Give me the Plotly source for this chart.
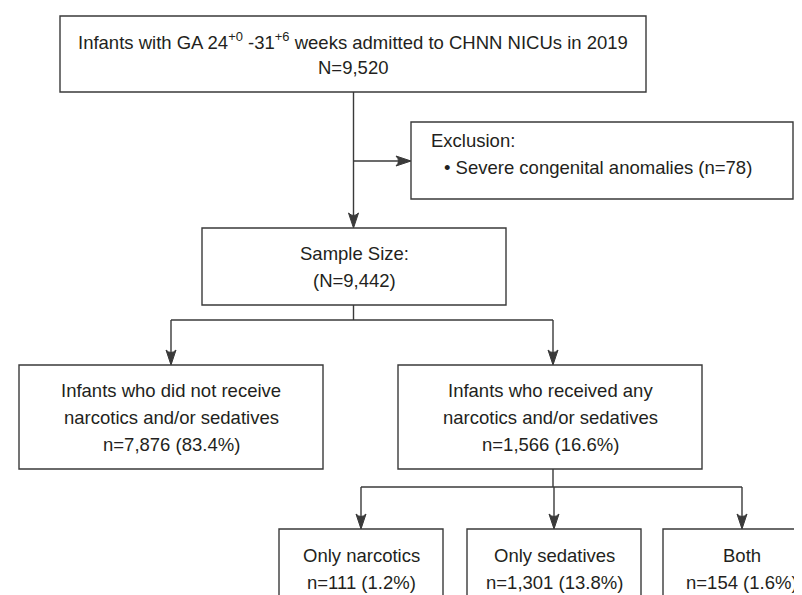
import plotly.graph_objects as go

# ---------------- data ----------------
admitted_total = 9520
excluded_anomalies = 78
sample_size = 9442
group_labels = [["Infants who did not receive", "narcotics and/or sedatives"],
                ["Infants who received any", "narcotics and/or sedatives"]]
group_counts = [7876, 1566]
group_pcts = [83.4, 16.6]
sub_labels = ["Only narcotics", "Only sedatives", "Both"]
sub_counts = [111, 1301, 154]
sub_pcts = [1.2, 13.8, 1.6]

# ---------------- layout geometry (pixels) ----------------
W, H = 802, 595
FONT = "Liberation Sans, Arial, Helvetica, sans-serif"
TXT = "#231f20"
LINE = "#3a3a3a"
FS = 18.5
LH = 27

top_box = (52, 638, 8, 84)
excl_box = (403, 785, 114, 191)
sample_box = (194, 498, 220, 297)
group_boxes = [(11, 315, 357, 461), (390, 694, 357, 461)]
sub_boxes = [(271, 435, 521, 640), (459, 633, 521, 640), (655, 813, 521, 640)]

shapes = []
annotations = []


def rect(b):
    shapes.append(dict(type="rect", xref="x", yref="y", x0=b[0], x1=b[1], y0=b[2], y1=b[3],
                       line=dict(color=LINE, width=1.4), fillcolor="rgba(0,0,0,0)"))


def seg(x0, y0, x1, y1):
    shapes.append(dict(type="line", xref="x", yref="y", x0=x0, y0=y0, x1=x1, y1=y1,
                       line=dict(color=LINE, width=1.4)))


def arrow_down(x, y):
    shapes.append(dict(type="path", xref="x", yref="y",
                       path=f"M {x},{y} L {x-5},{y-15} Q {x},{y-10} {x+5},{y-15} Z",
                       fillcolor=LINE, line=dict(color=LINE, width=1)))


def arrow_right(x, y):
    shapes.append(dict(type="path", xref="x", yref="y",
                       path=f"M {x},{y} L {x-15},{y-5} Q {x-10},{y} {x-15},{y+5} Z",
                       fillcolor=LINE, line=dict(color=LINE, width=1)))


def text(x, y, s, anchor="center"):
    annotations.append(dict(x=x, y=y, xref="x", yref="y", text=s, showarrow=False,
                            xanchor=anchor, yanchor="middle",
                            font=dict(family=FONT, size=FS, color=TXT)))


def lines_in(b, lines):
    cx = (b[0] + b[1]) / 2
    cy = (b[2] + b[3]) / 2
    n = len(lines)
    for i, s in enumerate(lines):
        text(cx, cy + (i - (n - 1) / 2) * LH, s)


# boxes
for b in [top_box, excl_box, sample_box] + group_boxes + sub_boxes:
    rect(b)

# top box text
lines_in(top_box, ["Infants with GA 24<sup>+0</sup> -31<sup>+6</sup> weeks admitted to CHNN NICUs in 2019",
                   f"N={admitted_total:,}"])

# exclusion text
text(421, 132, "Exclusion:", anchor="left")
text(434, 159, f"• Severe congenital anomalies (n={excluded_anomalies})", anchor="left")

# sample
lines_in((sample_box[0], sample_box[1], sample_box[2] + 1, sample_box[3]),
         ["Sample Size:", f"(N={sample_size:,})"])

# groups
for b, lab, c, p in zip(group_boxes, group_labels, group_counts, group_pcts):
    lines_in(b, lab + [f"n={c:,} ({p}%)"])

# sub groups
for b, lab, c, p in zip(sub_boxes, sub_labels, sub_counts, sub_pcts):
    cx = (b[0] + b[1]) / 2
    text(cx, 547, lab)
    text(cx, 574, f"n={c:,} ({p}%)")

# connectors
mx = 345.5
seg(mx, top_box[3], mx, sample_box[2] - 2)
arrow_down(mx, sample_box[2])
seg(mx, 153, excl_box[0] - 2, 153)
arrow_right(excl_box[0], 153)

seg(mx, sample_box[3], mx, 312)
gx = [163, 545]
seg(gx[0], 312, gx[1], 312)
for x in gx:
    seg(x, 312, x, 355)
    arrow_down(x, 357)

sx = [353, 546, 734]
seg(545, group_boxes[1][3], 545, 479)
seg(sx[0], 479, sx[2], 479)
for x in sx:
    seg(x, 479, x, 519)
    arrow_down(x, 521)

fig = go.Figure()
fig.update_layout(
    width=W, height=H,
    margin=dict(l=0, r=0, t=0, b=0),
    paper_bgcolor="white", plot_bgcolor="white",
    xaxis=dict(range=[0, W], visible=False, fixedrange=True),
    yaxis=dict(range=[H, 0], visible=False, fixedrange=True),
    shapes=shapes, annotations=annotations, showlegend=False,
)
fig.write_html("out.html")
